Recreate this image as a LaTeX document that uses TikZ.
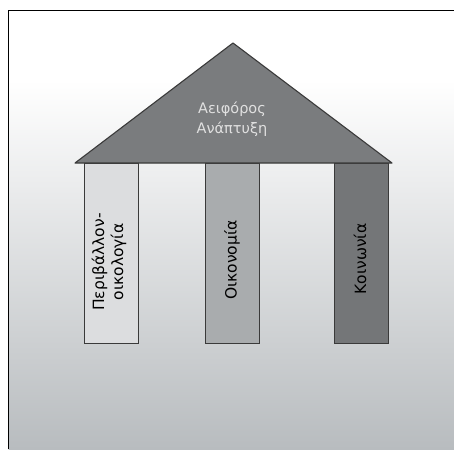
\documentclass[tikz,border=0pt]{standalone}
\usepackage{fontspec}
\setmainfont{DejaVu Sans}
\definecolor{roofgray}{HTML}{7A7C7E}
\definecolor{colA}{HTML}{DCDDDF}
\definecolor{colB}{HTML}{A9ACAE}
\definecolor{colC}{HTML}{747678}
\definecolor{bgbottom}{HTML}{B8BCBF}
\definecolor{edge}{HTML}{3A3A3A}
\begin{document}
\begin{tikzpicture}[x=1pt,y=-1pt,
  pillar/.style={draw=edge,line width=1.3pt,minimum width=54pt,minimum height=180pt,anchor=north west,inner sep=0pt},
  pillartext/.style={rotate=90,font=\fontsize{15.5}{19}\selectfont,text=black,align=center,inner sep=0pt},
  rooftext/.style={font=\fontsize{14.5}{19.5}\selectfont,text=white!88!black,align=center,inner sep=0pt}]
\useasboundingbox (0,0) rectangle (454,450);
% backdrop: white top band fading into grey
\fill[white] (0,0) rectangle (454,450);
\fill[white] (8.5,10.5) rectangle (454,80);
\shade[top color=white,bottom color=bgbottom] (8.5,80) rectangle (454,449);
\draw[black,line width=1.8pt] (8.5,449) -- (8.5,10.5) -- (454,10.5);
% pillars
\node[pillar,fill=colA] (p1) at (84,163) {};
\node[pillar,fill=colB] (p2) at (205,163) {};
\node[pillar,fill=colC] (p3) at (334,163) {};
% roof
\coordinate (apex) at (233,43);
\coordinate (rl) at (75,163);
\coordinate (rr) at (392,163);
\fill[roofgray] (rl) -- (apex) -- (rr) -- cycle;
\draw[edge,line width=1.1pt,line join=round] (rl) -- (apex) -- (rr) -- cycle;
\node[rooftext] (rt) at (232,119) {Αειφόρος\\Ανάπτυξη};
% pillar labels
\node[pillartext] (t1) at (109,262) {Περιβάλλον-\\οικολογία};
\node[pillartext] (t2) at (232,260) {Οικονομία};
\node[pillartext] (t3) at (360,259) {Κοινωνία};
\end{tikzpicture}
\end{document}
